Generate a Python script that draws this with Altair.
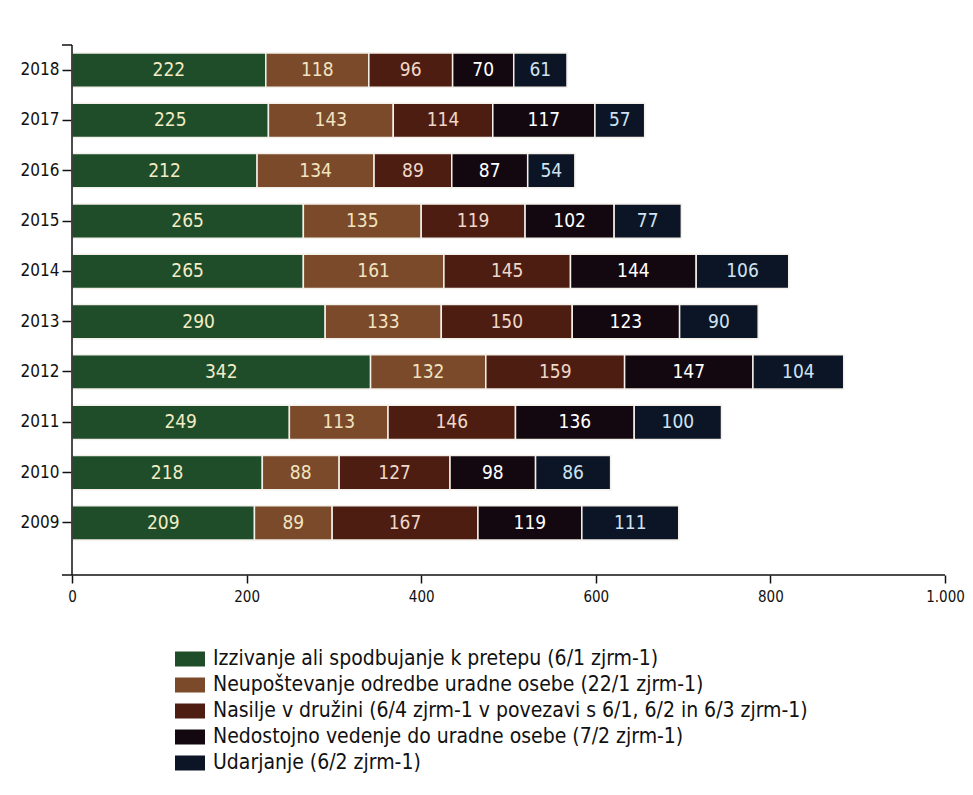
import altair as alt
import pandas as pd

years = ["2018", "2017", "2016", "2015", "2014", "2013", "2012", "2011", "2010", "2009"]
series = [
    "Izzivanje ali spodbujanje k pretepu (6/1 zjrm-1)",
    "Neupoštevanje odredbe uradne osebe (22/1 zjrm-1)",
    "Nasilje v družini (6/4 zjrm-1 v povezavi s 6/1, 6/2 in 6/3 zjrm-1)",
    "Nedostojno vedenje do uradne osebe (7/2 zjrm-1)",
    "Udarjanje (6/2 zjrm-1)",
]
izzivanje = [222, 225, 212, 265, 265, 290, 342, 249, 218, 209]
neupostevanje = [118, 143, 134, 135, 161, 133, 132, 113, 88, 89]
nasilje = [96, 114, 89, 119, 145, 150, 159, 146, 127, 167]
nedostojno = [70, 117, 87, 102, 144, 123, 147, 136, 98, 119]
udarjanje = [61, 57, 54, 77, 106, 90, 104, 100, 86, 111]
colors = ["#1f4d2a", "#7a4a2a", "#4d1d12", "#130810", "#0c1526"]
label_colors = ["#f2ecc4", "#f2e4c0", "#f0d8c8", "#ffffff", "#cfe3f2"]

rows = []
for si, vals in enumerate([izzivanje, neupostevanje, nasilje, nedostojno, udarjanje]):
    for y, v in zip(years, vals):
        rows.append({"year": y, "series": series[si], "order": si, "value": v,
                     "lc": label_colors[si]})
df = pd.DataFrame(rows)

W, H = 873, 530
FONT = "DejaVu Sans Condensed"
yscale = alt.Scale(domain=years, range=[8, 495], paddingInner=0.32, paddingOuter=0)
xscale = alt.Scale(domain=[0, 1000], nice=False)

base = alt.Chart(df).transform_stack(
    stack="value", groupby=["year"], as_=["x0", "x1"],
    sort=[alt.SortField("order", order="ascending")]
).transform_calculate(mid="(datum.x0 + datum.x1) / 2")

bars = base.mark_bar(stroke="#f4f0ea", strokeWidth=1.5).encode(
    y=alt.Y("year:N", scale=yscale, sort=years,
            axis=alt.Axis(title=None, domain=False, tickSize=10, tickColor="#111",
                          tickWidth=1.5, labelFontSize=17, labelPadding=3,
                          labelColor="#111", labelFont=FONT)),
    x=alt.X("x0:Q", scale=xscale,
            axis=alt.Axis(title=None, domain=False, values=[0, 200, 400, 600, 800, 1000],
                          tickSize=8, tickColor="#111", tickWidth=1.5, grid=False,
                          labelFontSize=15, labelPadding=6, labelColor="#111",
                          labelFont=FONT, labelFlush=False,
                          labelExpr="replace(format(datum.value, ','), ',', '.')")),
    x2="x1:Q",
    color=alt.Color("series:N", scale=alt.Scale(domain=series, range=colors),
                    legend=alt.Legend(title=None, orient="none", legendX=103, legendY=599,
                                      symbolType="M-1,-0.5L1,-0.5L1,0.5L-1,0.5Z",
                                      symbolSize=900, symbolStrokeWidth=0,
                                      labelFontSize=21, labelColor="#111",
                                      labelFont=FONT,
                                      rowPadding=1, labelOffset=8, labelLimit=800)),
)

labels = base.mark_text(fontSize=19, font=FONT).encode(
    y=alt.Y("year:N", scale=yscale, sort=years),
    x=alt.X("mid:Q", scale=xscale),
    text="value:Q",
    color=alt.Color("lc:N", scale=None),
)

axis_df = pd.DataFrame({"k": [0]})
yline = alt.Chart(axis_df).mark_rule(color="#111", strokeWidth=1.5).encode(
    x=alt.value(0), y=alt.value(0), y2=alt.value(H))
ytop = alt.Chart(axis_df).mark_rule(color="#111", strokeWidth=1.5).encode(
    x=alt.value(-10), x2=alt.value(0), y=alt.value(0))
xline = alt.Chart(axis_df).mark_rule(color="#111", strokeWidth=1.5).encode(
    x=alt.value(-10), x2=alt.value(W), y=alt.value(H))

chart = alt.layer(bars, labels, yline, ytop, xline).properties(
    width=W, height=H, background="white",
    autosize=alt.AutoSizeParams(type="none"),
    padding={"left": 64, "top": 37, "right": 20, "bottom": 200},
).configure_view(stroke=None)

chart.save("out.html", embed_options={"renderer": "svg", "actions": False})
